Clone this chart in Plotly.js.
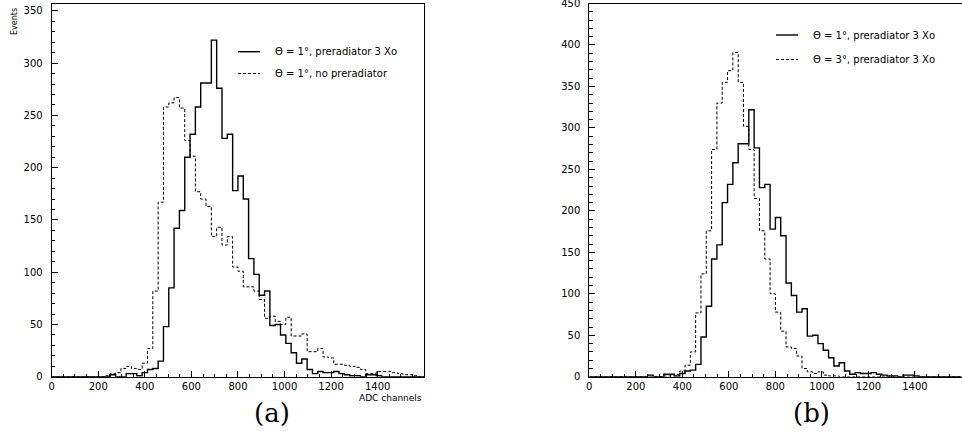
<!DOCTYPE html>
<html>
<head>
<meta charset="utf-8">
<script src="https://cdn.plot.ly/plotly-3.0.1.min.js"></script>
<style>
  html, body { margin: 0; padding: 0; background: #fff; }
  #chart { width: 962px; height: 436px; }
</style>
</head>
<body>
<div id="chart"></div>
<script>
// ---- Histogram binning (70 bins over 0..1600 ADC channels) ----
const N_BINS = 70;
const X_MIN = 0;
const X_MAX = 1600;

// ---- Bin contents (Events), bins 0..69 ----
// Theta = 1 deg, preradiator 3 Xo (same sample in panels a and b)
const theta1Pre3 = [
  0, 0, 0, 0, 0, 0, 0, 0, 0, 0,
  0, 2, 0, 0, 3, 3, 1, 4, 7, 8,
  15, 48, 85, 142, 159, 210, 232, 258, 281, 281,
  322, 276, 228, 232, 178, 192, 170, 113, 98, 78,
  82, 49, 50, 40, 32, 23, 13, 17, 7, 3,
  5, 4, 4, 5, 3, 2, 1, 1, 0, 2,
  2, 1, 0, 0, 0, 0, 0, 0, 0, 0
];
// Theta = 1 deg, no preradiator (panel a)
const theta1NoPre = [
  0, 0, 0, 0, 0, 0, 0, 0, 0, 0,
  1, 3, 4, 8, 10, 8, 7, 13, 27, 82,
  167, 258, 262, 267, 257, 226, 211, 177, 170, 163,
  134, 143, 126, 134, 105, 101, 86, 86, 82, 74,
  56, 58, 53, 50, 57, 39, 39, 41, 24, 24,
  27, 19, 18, 12, 12, 11, 10, 9, 7, 3,
  3, 5, 5, 5, 4, 3, 2, 2, 1, 0
];
// Theta = 3 deg, preradiator 3 Xo (panel b)
const theta3Pre3 = [
  0, 0, 0, 0, 0, 0, 0, 0, 0, 0,
  0, 0, 0, 0, 1, 1, 3, 7, 14, 30,
  77, 124, 176, 274, 330, 355, 369, 391, 355, 302,
  274, 215, 176, 142, 100, 78, 55, 36, 34, 25,
  10, 6, 4, 6, 2, 1, 1, 0, 0, 0,
  0, 0, 0, 0, 0, 0, 0, 0, 0, 0,
  0, 0, 0, 0, 0, 0, 0, 0, 0, 0
];

// ---- Tick labels ----
const xTicks = [0, 200, 400, 600, 800, 1000, 1200, 1400];
const yTicksA = [0, 50, 100, 150, 200, 250, 300, 350];
const yTicksB = [0, 50, 100, 150, 200, 250, 300, 350, 400, 450];

// ---- Texts ----
const legendA = ["\u0398 = 1\u00b0, preradiator 3 Xo", "\u0398 = 1\u00b0, no preradiator"];
const legendB = ["\u0398 = 1\u00b0, preradiator 3 Xo", "\u0398 = 3\u00b0, preradiator 3 Xo"];
const yTitle = "Events";
const xTitle = "ADC channels";
const panelLabels = ["(a)", "(b)"];

// ---- Build step histograms ----
const binW = (X_MAX - X_MIN) / N_BINS;
const edges = Array.from({length: N_BINS + 1}, (_, i) => X_MIN + i * binW);
const stepY = c => c.concat([c[c.length - 1]]);

const W = 962, H = 436;
const px = v => v / W;
const py = v => 1 - v / H;

const solid = {color: '#000', width: 1.4, shape: 'hv'};
const dashed = {color: '#000', width: 1, shape: 'hv', dash: '3px,2px'};

const traces = [
  {x: edges, y: stepY(theta1Pre3), type: 'scatter', mode: 'lines', line: solid, xaxis: 'x', yaxis: 'y', hoverinfo: 'skip'},
  {x: edges, y: stepY(theta1NoPre), type: 'scatter', mode: 'lines', line: dashed, xaxis: 'x', yaxis: 'y', hoverinfo: 'skip'},
  {x: edges, y: stepY(theta1Pre3), type: 'scatter', mode: 'lines', line: solid, xaxis: 'x2', yaxis: 'y2', hoverinfo: 'skip'},
  {x: edges, y: stepY(theta3Pre3), type: 'scatter', mode: 'lines', line: dashed, xaxis: 'x2', yaxis: 'y2', hoverinfo: 'skip'}
];

const tickFont = {family: 'DejaVu Sans', size: 10, color: '#000'};
const textFont = {family: 'DejaVu Sans', size: 10, color: '#000'};
const axisBase = {
  showline: true, mirror: true, linecolor: '#000', linewidth: 1,
  ticks: 'inside', tickcolor: '#000', tickwidth: 1,
  ticklabelposition: 'outside', ticklabeloverflow: 'allow',
  showgrid: false, zeroline: false, tickfont: tickFont, fixedrange: true
};

const yBottom = py(376.8), yTop = py(3.5);

const layout = {
  width: W, height: H,
  margin: {l: 0, r: 0, t: 0, b: 0},
  paper_bgcolor: '#fff', plot_bgcolor: '#fff',
  showlegend: false,
  xaxis: Object.assign({}, axisBase, {
    domain: [px(51.7), px(424.2)], range: [X_MIN, X_MAX], anchor: 'y',
    tickmode: 'array', tickvals: xTicks, ticktext: xTicks.map(String), ticklen: 6,
    minor: {tickmode: 'linear', tick0: 0, dtick: 50, ticks: 'inside', ticklen: 3, tickcolor: '#000', showgrid: false}
  }),
  yaxis: Object.assign({}, axisBase, {
    domain: [yBottom, yTop], range: [0, 357], anchor: 'x', ticklabelstandoff: 6,
    tickmode: 'array', tickvals: yTicksA, ticktext: yTicksA.map(String), ticklen: 6,
    minor: {tickmode: 'linear', tick0: 0, dtick: 10, ticks: 'inside', ticklen: 3.5, tickcolor: '#000', showgrid: false}
  }),
  xaxis2: Object.assign({}, axisBase, {
    domain: [px(589.3), px(961.5)], range: [X_MIN, X_MAX], anchor: 'y2',
    tickmode: 'array', tickvals: xTicks, ticktext: xTicks.map(String), ticklen: 6,
    minor: {tickmode: 'linear', tick0: 0, dtick: 50, ticks: 'inside', ticklen: 3, tickcolor: '#000', showgrid: false}
  }),
  yaxis2: Object.assign({}, axisBase, {
    domain: [yBottom, yTop], range: [0, 450], anchor: 'x2', ticklabelstandoff: 6,
    ticklabelshift: 2.5,
    tickmode: 'array', tickvals: yTicksB, ticktext: yTicksB.map(String), ticklen: 6,
    minor: {tickmode: 'linear', tick0: 0, dtick: 10, ticks: 'inside', ticklen: 3.5, tickcolor: '#000', showgrid: false}
  }),
  shapes: [
    {type: 'line', xref: 'paper', yref: 'paper', x0: px(238), x1: px(260), y0: py(51.7), y1: py(51.7), line: {color: '#000', width: 1.4}},
    {type: 'line', xref: 'paper', yref: 'paper', x0: px(238), x1: px(260), y0: py(73.5), y1: py(73.5), line: {color: '#000', width: 1, dash: '3px,2px'}},
    {type: 'line', xref: 'paper', yref: 'paper', x0: px(776), x1: px(798), y0: py(35), y1: py(35), line: {color: '#000', width: 1.4}},
    {type: 'line', xref: 'paper', yref: 'paper', x0: px(776), x1: px(798), y0: py(59.5), y1: py(59.5), line: {color: '#000', width: 1, dash: '3px,2px'}}
  ],
  annotations: [
    {xref: 'paper', yref: 'paper', x: px(272.5), y: py(51.7), text: legendA[0], showarrow: false, xanchor: 'left', yanchor: 'middle', font: textFont},
    {xref: 'paper', yref: 'paper', x: px(272.5), y: py(73.5), text: legendA[1], showarrow: false, xanchor: 'left', yanchor: 'middle', font: textFont},
    {xref: 'paper', yref: 'paper', x: px(810.5), y: py(35), text: legendB[0], showarrow: false, xanchor: 'left', yanchor: 'middle', font: textFont},
    {xref: 'paper', yref: 'paper', x: px(810.5), y: py(59.5), text: legendB[1], showarrow: false, xanchor: 'left', yanchor: 'middle', font: textFont},
    {xref: 'paper', yref: 'paper', x: px(14.5), y: py(21.5), text: yTitle, showarrow: false, textangle: -90, xanchor: 'center', yanchor: 'middle', font: {family: 'DejaVu Sans', size: 8, color: '#000'}},
    {xref: 'paper', yref: 'paper', x: px(424), y: py(398), text: xTitle, showarrow: false, xanchor: 'right', yanchor: 'middle', font: {family: 'DejaVu Sans', size: 9, color: '#000'}},
    {xref: 'paper', yref: 'paper', x: px(272), y: py(413), text: panelLabels[0], showarrow: false, xanchor: 'center', yanchor: 'middle', font: {family: 'DejaVu Serif', size: 26, color: '#000'}},
    {xref: 'paper', yref: 'paper', x: px(811), y: py(413), text: panelLabels[1], showarrow: false, xanchor: 'center', yanchor: 'middle', font: {family: 'DejaVu Serif', size: 26, color: '#000'}}
  ]
};

Plotly.newPlot('chart', traces, layout, {staticPlot: true, displayModeBar: false});
</script>
</body>
</html>
